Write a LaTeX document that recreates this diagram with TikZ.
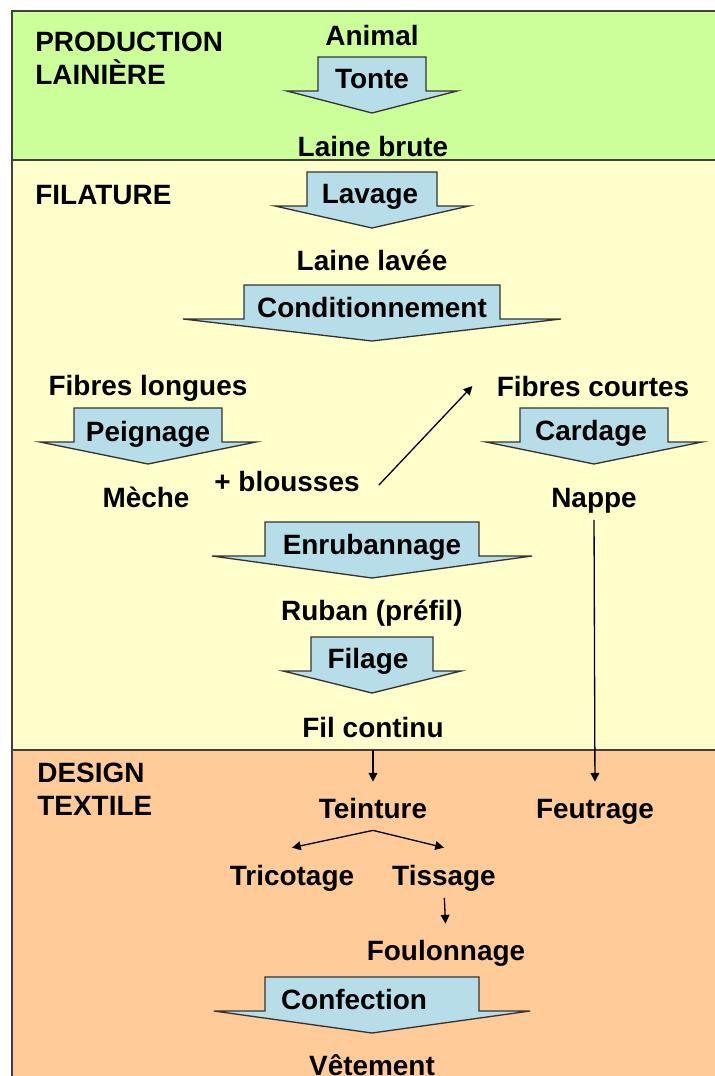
\documentclass[tikz,border=0pt]{standalone}
\usepackage{fontspec}
\setmainfont{Liberation Sans}
\usetikzlibrary{positioning, arrows.meta}

\definecolor{prodGreen}{RGB}{204,255,153}
\definecolor{filYellow}{RGB}{255,255,204}
\definecolor{desOrange}{RGB}{255,204,153}
\definecolor{stepBlue}{RGB}{183,221,232}

% block arrow: centre x, top y, body half width, head half width, head depth
\newcommand{\procarrow}[5]{%
  \draw[procshape] ({#1-#3},#2) -- ({#1+#3},#2) -- ({#1+#3},{#2+34})
    -- ({#1+#4},{#2+34}) -- (#1,{#2+34+#5}) -- ({#1-#4},{#2+34})
    -- ({#1-#3},{#2+34}) -- cycle;}

\begin{document}
\begin{tikzpicture}[
  x=0.02cm, y=-0.02cm,
  font=\fontsize{15.9}{18.8}\selectfont\bfseries,
  >={Triangle[length=5pt,width=5pt]},
  band/.style={draw=black!75, line width=1.1pt, fill=#1},
  procshape/.style={draw=black!80, line width=0.75pt, fill=stepBlue},
  txt/.style={inner sep=0.1cm, text height=11.4pt, text depth=0pt},
  ttl/.style={inner sep=0pt, align=left, anchor=west},
  arr/.style={->, line width=0.75pt, shorten <=0.15cm, shorten >=0.22cm},
  tip/.style={->, line width=0.75pt},
]

\useasboundingbox (0,0) rectangle (715,1076);
\clip (0,0) rectangle (715,1076);

%% ===== BANDS =====

\draw[band=prodGreen]  (12,11)  rectangle (730,160);
\draw[band=filYellow]  (12,160) rectangle (730,750);
\draw[band=desOrange]  (12,750) rectangle (730,1100);

\node[ttl] (prodttl) at (35,58.5)  {PRODUCTION\\LAINIÈRE};
\node[ttl] (filttl)  at (35,195)   {FILATURE};
\node[ttl] (desttl)  at (37,789.5) {DESIGN\\TEXTILE};

%% ===== PRODUCTION LAINIERE =====

\node[txt] (animal) at (372,35) {Animal};
\procarrow{372}{57}{54}{85}{22}
\node[txt] (tonte) at (372,78) {Tonte};
\node[txt] (brute) at (373,146) {Laine brute};

%% ===== FILATURE =====

\procarrow{372}{172}{65}{97}{22}
\node[txt] (lavage) at (370,193) {Lavage};
\node[txt] (lavee) at (372,260) {Laine lavée};

\procarrow{372}{285}{128}{189}{22}
\node[txt] (cond) at (372,307) {Conditionnement};

\node[txt] (flongues) at (148,385) {Fibres longues};
\node[txt] (fcourtes) at (593,386) {Fibres courtes};

\procarrow{148}{408}{74}{108}{22}
\node[txt] (peign) at (148,431) {Peignage};
\procarrow{594}{408}{74}{108}{22}
\node[txt] (card) at (591,430) {Cardage};

\node[txt] (meche) at (146,497) {Mèche};
\node[txt] (blousses) at (287,481) {+ blousses};
\node[txt] (nappe) at (594,497) {Nappe};

\procarrow{372}{522}{107}{160}{22}
\node[txt] (enrub) at (372,544) {Enrubannage};
\node[txt] (ruban) at (372,610) {Ruban (préfil)};

\procarrow{372}{637}{61}{89}{22}
\node[txt] (filage) at (368,658) {Filage};
\node[txt] (filcont) at (373,727) {Fil continu};

%% ===== DESIGN TEXTILE =====

\node[txt] (teint) at (373,808) {Teinture};
\node[txt] (feutr) at (595,808) {Feutrage};
\node[txt] (trico) at (292,875) {Tricotage};
\node[txt] (tiss)  at (444,875) {Tissage};
\node[txt] (foul)  at (446,950) {Foulonnage};

\procarrow{372}{977}{107}{158}{22}
\node[txt] (confec) at (354,999) {Confection};
\node[txt] (vetem) at (372,1065) {Vêtement};

%% ===== ARROWS =====

\draw[tip] ([xshift=0.28cm, yshift=-0.08cm]blousses.east)
    -- ([xshift=-0.38cm]fcourtes.west);
\draw[arr] (nappe.south)   -- (feutr.north);
\draw[arr] (filcont.south) -- (teint.north);
\draw[arr] (tiss.south)    -- (foul.north);

\coordinate (split) at ([yshift=-0.14cm]teint.south);
\draw[tip] (split) -- ([yshift=0.24cm]trico.north);
\draw[tip] (split) -- ([yshift=0.24cm]tiss.north);

\end{tikzpicture}
\end{document}
